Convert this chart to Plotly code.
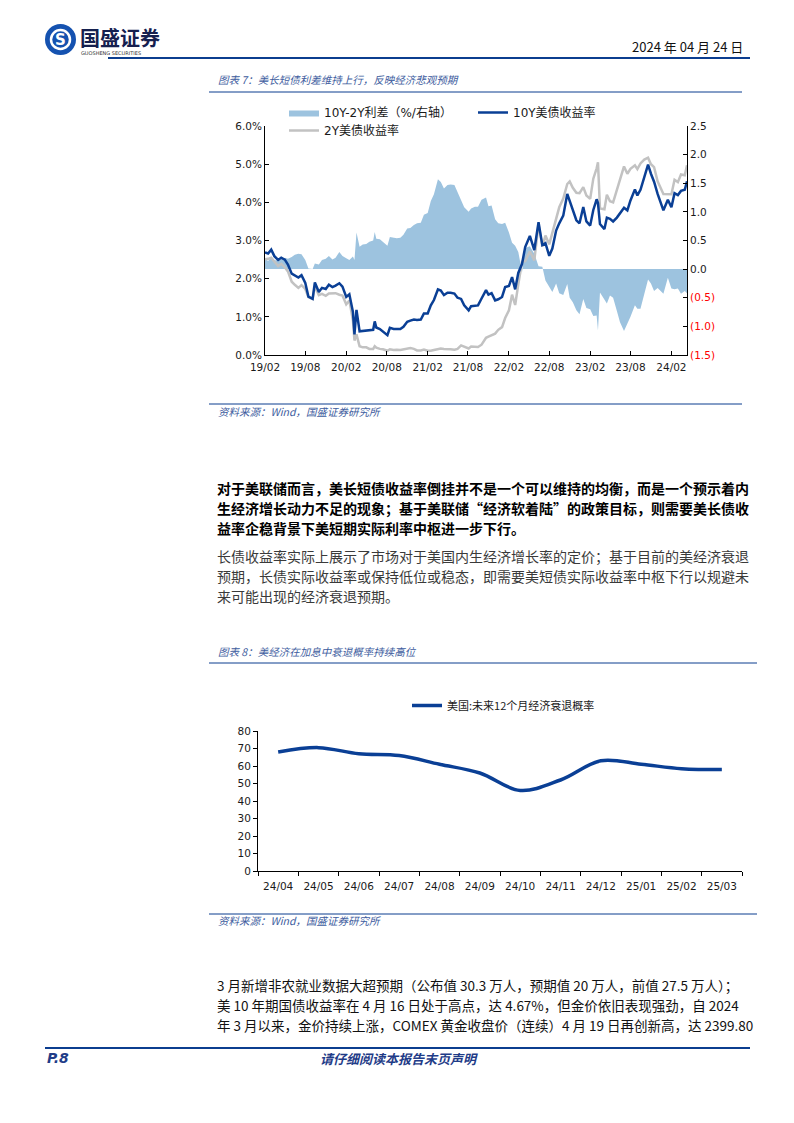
import plotly.graph_objects as go

# ---------------- Chart 1 data ----------------
dates = [
    "2019-02-01", "2019-02-15", "2019-03-01", "2019-03-15", "2019-04-01", "2019-04-15",
    "2019-05-01", "2019-05-15", "2019-06-01", "2019-06-15", "2019-07-01", "2019-07-15",
    "2019-08-01", "2019-08-15", "2019-09-03", "2019-09-13", "2019-10-01", "2019-10-15",
    "2019-11-01", "2019-11-15", "2019-12-01", "2019-12-15",
    "2020-01-01", "2020-01-15", "2020-02-01", "2020-02-15", "2020-03-02", "2020-03-09",
    "2020-03-18", "2020-04-01", "2020-04-15", "2020-05-01", "2020-05-15", "2020-06-01",
    "2020-06-08", "2020-06-15", "2020-07-01", "2020-07-15", "2020-08-04", "2020-08-15",
    "2020-09-01", "2020-09-15", "2020-10-01", "2020-10-15", "2020-11-01", "2020-11-15",
    "2020-12-01", "2020-12-15",
    "2021-01-01", "2021-01-15", "2021-02-01", "2021-02-15", "2021-03-01", "2021-03-19",
    "2021-04-01", "2021-04-15", "2021-05-01", "2021-05-15", "2021-06-01", "2021-06-15",
    "2021-07-01", "2021-07-15", "2021-08-04", "2021-08-15", "2021-09-01", "2021-09-15",
    "2021-10-01", "2021-10-21", "2021-11-01", "2021-11-15", "2021-12-01", "2021-12-15",
    "2022-01-01", "2022-01-15", "2022-02-01", "2022-02-15", "2022-03-01", "2022-03-15",
    "2022-04-01", "2022-04-15", "2022-05-06", "2022-05-26", "2022-06-14", "2022-07-01",
    "2022-07-15", "2022-08-01", "2022-08-15", "2022-09-01", "2022-09-15", "2022-10-03",
    "2022-10-21", "2022-11-01", "2022-11-15", "2022-12-01", "2022-12-15",
    "2023-01-01", "2023-01-15", "2023-02-01", "2023-02-15", "2023-03-02", "2023-03-08",
    "2023-03-17", "2023-04-06", "2023-04-17", "2023-05-01", "2023-05-15", "2023-06-01",
    "2023-06-15", "2023-07-03", "2023-07-18", "2023-08-01", "2023-08-21", "2023-09-01",
    "2023-09-15", "2023-10-02", "2023-10-19", "2023-11-01", "2023-11-15", "2023-12-01",
    "2023-12-27",
    "2024-01-16", "2024-02-01", "2024-02-15", "2024-03-01", "2024-03-15", "2024-04-01",
    "2024-04-11",
]

yield_10y = [
    2.69, 2.66, 2.76, 2.59, 2.49, 2.55, 2.50, 2.37, 2.13, 2.09, 2.03, 2.09,
    1.89, 1.53, 1.47, 1.90, 1.65, 1.76, 1.73, 1.84, 1.78, 1.82,
    1.88, 1.79, 1.52, 1.59, 1.13, 0.54, 1.18, 0.62, 0.63, 0.64, 0.64, 0.66,
    0.88, 0.72, 0.68, 0.62, 0.52, 0.71, 0.68, 0.68, 0.68, 0.74, 0.87, 0.90,
    0.93, 0.92,
    0.93, 1.09, 1.09, 1.30, 1.44, 1.72, 1.69, 1.57, 1.63, 1.63, 1.61, 1.50,
    1.47, 1.30, 1.17, 1.28, 1.30, 1.30, 1.48, 1.70, 1.58, 1.62, 1.43, 1.46,
    1.52, 1.78, 1.81, 2.04, 1.72, 2.15, 2.39, 2.83, 3.12, 2.75, 3.48, 2.88,
    2.93, 2.60, 2.79, 3.26, 3.45, 3.65, 4.22, 4.05, 3.80, 3.53, 3.45,
    3.88, 3.50, 3.39, 3.80, 4.08, 3.98, 3.43, 3.30, 3.60, 3.57, 3.50, 3.60,
    3.72, 3.86, 3.79, 4.05, 4.34, 4.18, 4.33, 4.69, 4.99, 4.75, 4.54, 4.22,
    3.79,
    4.07, 3.87, 4.24, 4.19, 4.30, 4.33, 4.55,
]

yield_2y = [
    2.51, 2.52, 2.55, 2.44, 2.33, 2.39, 2.30, 2.19, 1.92, 1.84, 1.76, 1.83,
    1.73, 1.52, 1.47, 1.80, 1.57, 1.60, 1.55, 1.61, 1.61, 1.62,
    1.58, 1.56, 1.33, 1.43, 0.91, 0.38, 0.54, 0.23, 0.20, 0.20, 0.16, 0.16,
    0.23, 0.19, 0.16, 0.15, 0.11, 0.15, 0.13, 0.14, 0.13, 0.14, 0.16, 0.18,
    0.16, 0.12,
    0.12, 0.14, 0.11, 0.11, 0.13, 0.15, 0.17, 0.16, 0.16, 0.15, 0.14, 0.16,
    0.25, 0.22, 0.17, 0.22, 0.21, 0.21, 0.27, 0.45, 0.48, 0.51, 0.56, 0.66,
    0.73, 0.97, 1.17, 1.58, 1.31, 1.85, 2.44, 2.46, 2.72, 2.48, 3.43, 2.84,
    3.13, 2.90, 3.19, 3.51, 3.87, 4.10, 4.48, 4.55, 4.38, 4.25, 4.24,
    4.40, 4.18, 4.09, 4.62, 4.89, 5.05, 3.84, 3.82, 4.20, 4.03, 4.00, 4.33,
    4.65, 4.94, 4.75, 4.88, 4.97, 4.87, 5.02, 5.12, 5.17, 5.00, 4.92, 4.55,
    4.22,
    4.22, 4.21, 4.59, 4.53, 4.73, 4.71, 4.97,
]

spread_10y_2y = [
    0.18, 0.14, 0.21, 0.15, 0.16, 0.16, 0.20, 0.18, 0.21, 0.25, 0.27, 0.26,
    0.16, 0.01, 0.00, 0.10, 0.08, 0.16, 0.18, 0.23, 0.17, 0.20,
    0.30, 0.23, 0.19, 0.16, 0.22, 0.16, 0.64, 0.39, 0.43, 0.44, 0.48, 0.50,
    0.65, 0.53, 0.52, 0.47, 0.41, 0.56, 0.55, 0.54, 0.55, 0.60, 0.71, 0.72,
    0.77, 0.80,
    0.81, 0.95, 0.98, 1.19, 1.31, 1.57, 1.52, 1.41, 1.47, 1.48, 1.47, 1.34,
    1.22, 1.08, 1.00, 1.06, 1.09, 1.09, 1.21, 1.25, 1.10, 1.11, 0.87, 0.80,
    0.79, 0.81, 0.64, 0.46, 0.41, 0.30, -0.05, 0.37, 0.40, 0.27, 0.05, 0.04,
    -0.20, -0.30, -0.40, -0.25, -0.42, -0.45, -0.26, -0.50, -0.58, -0.72, -0.79,
    -0.52, -0.68, -0.70, -0.82, -0.81, -1.07, -0.41, -0.52, -0.60, -0.46, -0.50, -0.73,
    -0.93, -1.08, -0.96, -0.83, -0.63, -0.69, -0.69, -0.43, -0.18, -0.25, -0.38, -0.33,
    -0.43,
    -0.15, -0.34, -0.35, -0.34, -0.43, -0.38, -0.42,
]

left_tick_vals = [0, 1, 2, 3, 4, 5, 6]
left_tick_text = ["0.0%", "1.0%", "2.0%", "3.0%", "4.0%", "5.0%", "6.0%"]
right_tick_vals = [2.5, 2.0, 1.5, 1.0, 0.5, 0.0, -0.5, -1.0, -1.5]
right_tick_text = ["2.5", "2.0", "1.5", "1.0", "0.5", "0.0",
                   "<span style='color:#ff0000'>(0.5)</span>",
                   "<span style='color:#ff0000'>(1.0)</span>",
                   "<span style='color:#ff0000'>(1.5)</span>"]

# ---------------- Chart 2 data ----------------
months = ["24/04", "24/05", "24/06", "24/07", "24/08", "24/09",
          "24/10", "24/11", "24/12", "25/01", "25/02", "25/03"]
recession_prob = [68, 70.5, 67, 66, 61, 56, 46, 52, 63, 61, 58.5, 58]

# ---------------- Page geometry ----------------
W, H = 794, 1123
def px(x):
    return x / W
def py(y):
    return 1 - y / H

CJK = "Noto Sans CJK SC"
TICKF = "DejaVu Sans, Noto Sans CJK SC"
NAVY = "#0a3f95"
CAP = "#3d5c9e"

fig = go.Figure()

# Chart 1 traces
fig.add_trace(go.Scatter(
    x=dates, y=spread_10y_2y, name="10Y-2Y利差（%/右轴）", mode="lines",
    fill="tozeroy", fillcolor="#9dc3df", line=dict(width=0, color="#9dc3df"),
    xaxis="x", yaxis="y", legend="legend", legendrank=1, hoverinfo="skip"))
fig.add_trace(go.Scatter(
    x=dates, y=yield_2y, name="2Y美债收益率", mode="lines",
    line=dict(color="#c2c2c2", width=2.5),
    xaxis="x", yaxis="y2", legend="legend3"))
fig.add_trace(go.Scatter(
    x=dates, y=yield_10y, name="10Y美债收益率", mode="lines",
    line=dict(color=NAVY, width=2.5),
    xaxis="x", yaxis="y2", legend="legend", legendrank=2))

# Chart 2 trace
fig.add_trace(go.Scatter(
    x=months, y=recession_prob, name="美国:未来12个月经济衰退概率", mode="lines",
    line=dict(color=NAVY, width=3.5, shape="spline", smoothing=1.0),
    xaxis="x3", yaxis="y3", legend="legend2"))

axis_common = dict(showgrid=False, zeroline=False, showline=True,
                   linecolor="#000000", linewidth=1, tickcolor="#000000",
                   tickfont=dict(family=TICKF, size=10.5, color="#1a1a1a"))

legend_common = dict(xanchor="left", yanchor="top", orientation="h",
                     itemwidth=30, bgcolor="rgba(0,0,0,0)", tracegroupgap=0)

fig.update_layout(
    width=W, height=H, margin=dict(l=0, r=0, t=0, b=0, autoexpand=False),
    paper_bgcolor="white", plot_bgcolor="white",
    showlegend=True,
    xaxis=dict(domain=[px(265), px(687)], anchor="y", type="date",
               range=["2019-02-01", "2024-04-11"], tick0="2019-02-01",
               dtick="M6", tickformat="%y/%m", ticks="inside", ticklen=4,
               tickangle=0, ticklabelstandoff=2, **axis_common),
    yaxis=dict(domain=[py(355), py(126)], anchor="x", side="right",
               range=[-1.5, 2.5], tickvals=right_tick_vals,
               ticktext=right_tick_text, ticks="inside", ticklen=4,
               **axis_common),
    yaxis2=dict(overlaying="y", anchor="x", side="left", range=[0, 6],
                tickvals=left_tick_vals, ticktext=left_tick_text,
                ticks="inside", ticklen=4, **axis_common),
    xaxis3=dict(domain=[px(258), px(742)], anchor="y3", type="category",
                range=[-0.5, 11.5], tickson="boundaries", ticks="outside",
                ticklen=4, tickangle=0, ticklabelstandoff=5, **axis_common),
    yaxis3=dict(domain=[py(871), py(731)], anchor="x3", range=[0, 80],
                dtick=10, ticks="outside", ticklen=4, **axis_common),
    legend=dict(x=px(284), y=py(98), entrywidth=144, entrywidthmode="pixels",
                font=dict(family=TICKF, size=12, color="#1a1a1a"),
                **legend_common),
    legend3=dict(x=px(284), y=py(116),
                 font=dict(family=TICKF, size=12, color="#1a1a1a"),
                 **legend_common),
    legend2=dict(x=px(407), y=py(691),
                 font=dict(family=CJK, size=11, color="#1a1a1a"),
                 **legend_common),
)

shapes = []
def hline(y, x0, x1, color, width):
    shapes.append(dict(type="line", xref="paper", yref="paper",
                       x0=px(x0), x1=px(x1), y0=py(y), y1=py(y),
                       line=dict(color=color, width=width)))

hline(58, 108, 750, "#0b3d8f", 2)       # header rule
hline(92, 209, 742, "#0b3d8f", 1)       # chart 7 title rule
hline(404, 209, 742, "#0b3d8f", 1)      # chart 7 source rule
hline(663, 209, 757, "#0b3d8f", 1)      # chart 8 title rule
hline(914, 209, 757, "#0b3d8f", 1)      # chart 8 source rule
hline(1048, 45, 750, "#0b3d8f", 2)      # footer rule

# logo mark
shapes.append(dict(type="circle", xref="paper", yref="paper",
                   x0=px(45), x1=px(76), y0=py(55), y1=py(24),
                   fillcolor="#1552b0", line=dict(color="#1552b0", width=0)))
shapes.append(dict(type="circle", xref="paper", yref="paper",
                   x0=px(51), x1=px(70), y0=py(49), y1=py(30),
                   fillcolor="rgba(0,0,0,0)", line=dict(color="white", width=2.5)))
fig.update_layout(shapes=shapes)

ann = []
def text(x, y, s, size=14, color="#000000", family=CJK, anchor="left",
         bold=False, italic=False):
    if bold:
        s = "<b>" + s + "</b>"
    if italic:
        s = "<i>" + s + "</i>"
    ann.append(dict(x=px(x), y=py(y), xref="paper", yref="paper", text=s,
                    showarrow=False, xanchor=anchor, yanchor="middle",
                    font=dict(family=family, size=size, color=color)))

# header
text(60.5, 39.5, "S", size=15, color="white", family="DejaVu Sans", anchor="center", bold=True)
text(78, 37, "国盛证券", size=20, color="#15204f", bold=True)
text(79, 53, "GUOSHENG SECURITIES", size=5, color="#333333", family="DejaVu Sans")
text(745, 47, "2024 年 04 月 24 日", size=13, color="#111111", anchor="right")

# chart 7 captions
text(216, 80, "图表 7：美长短债利差维持上行，反映经济悲观预期", size=10.5, color=CAP, italic=True)
text(216, 411, "资料来源：Wind，国盛证券研究所", size=10.5, color=CAP, italic=True)

# bold paragraph
text(215, 488, "对于美联储而言，美长短债收益率倒挂并不是一个可以维持的均衡，而是一个预示着内", bold=True)
text(215, 508, "生经济增长动力不足的现象；基于美联储“经济软着陆”的政策目标，则需要美长债收", bold=True)
text(215, 528, "益率企稳背景下美短期实际利率中枢进一步下行。", bold=True)

# normal paragraph
text(215, 556, "长债收益率实际上展示了市场对于美国内生经济增长率的定价；基于目前的美经济衰退", color="#3a3a3a")
text(215, 576, "预期，长债实际收益率或保持低位或稳态，即需要美短债实际收益率中枢下行以规避未", color="#3a3a3a")
text(215, 596, "来可能出现的经济衰退预期。", color="#3a3a3a")

# chart 8 captions
text(216, 651, "图表 8：美经济在加息中衰退概率持续高位", size=10.5, color=CAP, italic=True)
text(216, 920, "资料来源：Wind，国盛证券研究所", size=10.5, color=CAP, italic=True)

# bottom paragraph
text(215, 985, "3 月新增非农就业数据大超预期（公布值 30.3 万人，预期值 20 万人，前值 27.5 万人）；", size=13.5, color="#111111")
text(215, 1005, "美 10 年期国债收益率在 4 月 16 日处于高点，达 4.67%，但金价依旧表现强劲，自 2024", size=13.5, color="#111111")
text(215, 1025, "年 3 月以来，金价持续上涨，COMEX 黄金收盘价（连续）4 月 19 日再创新高，达 2399.80", size=13.5, color="#111111")

# footer
text(45, 1058, "P.8", size=14, color="#1f3c88", family="DejaVu Sans", bold=True, italic=True)
text(318, 1058, "请仔细阅读本报告末页声明", size=13, color="#1f3c88", bold=True, italic=True)

fig.update_layout(annotations=ann)

fig.write_html("out.html", config={"displayModeBar": False},
               post_script="document.body.style.margin='0px';")
